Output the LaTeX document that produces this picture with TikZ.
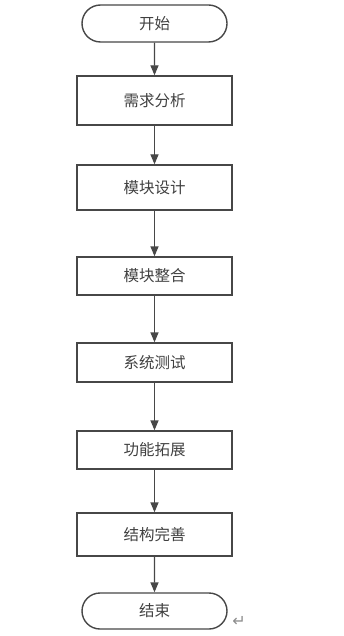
\documentclass[tikz,border=0pt]{standalone}
\usepackage{fontspec}
\newfontfamily\cjk{Noto Sans CJK SC}
\newfontfamily\dejavu{DejaVu Sans}
\usetikzlibrary{arrows.meta,shapes.misc}
\begin{document}
\begin{tikzpicture}[x=1pt,y=-1pt,
  line/.style={draw=black!72,line width=1.4pt},
  stepbox/.style={line,rectangle,minimum width=155pt,minimum height=#1,inner sep=0pt,font=\cjk\fontsize{15.5}{17}\selectfont,text=black!75},
  term/.style={line,rounded rectangle,minimum width=145pt,minimum height=37pt,inner sep=0pt,font=\cjk\fontsize{15.5}{17}\selectfont,text=black!75},
  arr/.style={line,-{Triangle[length=10pt,width=8pt]}}]
\useasboundingbox (0,0) rectangle (344,636);
\node[term] (s) at (154.5,23.5) {开始};
\node[stepbox=49pt] (b1) at (154.5,100.5) {需求分析};
\node[stepbox=45pt] (b2) at (154.5,187.5) {模块设计};
\node[stepbox=38pt] (b3) at (154.5,276) {模块整合};
\node[stepbox=39pt] (b4) at (154.5,362.5) {系统测试};
\node[stepbox=38pt] (b5) at (154.5,450) {功能拓展};
\node[stepbox=43pt] (b6) at (154.5,534.5) {结构完善};
\node[term,minimum height=36pt] (e) at (154.5,611) {结束};
\node[font=\dejavu\fontsize{16}{18}\selectfont,text=black!45] (ret) at (239,621) {↵};
\draw[arr] (s) -- (b1);
\draw[arr] (b1) -- (b2);
\draw[arr] (b2) -- (b3);
\draw[arr] (b3) -- (b4);
\draw[arr] (b4) -- (b5);
\draw[arr] (b5) -- (b6);
\draw[arr] (b6) -- (e);
\end{tikzpicture}
\end{document}
